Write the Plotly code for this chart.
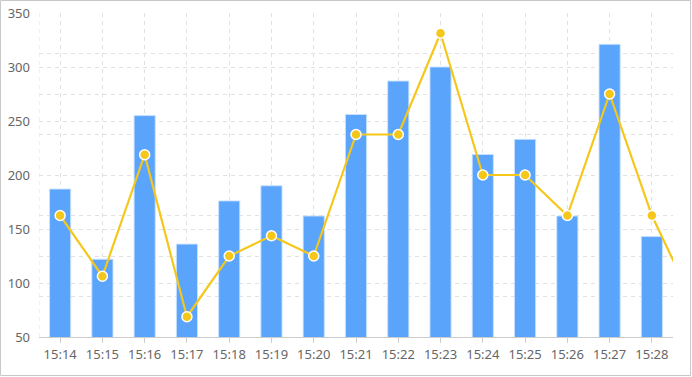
import plotly.graph_objects as go

# ---- data ----
times = ["15:14", "15:15", "15:16", "15:17", "15:18", "15:19", "15:20", "15:21",
         "15:22", "15:23", "15:24", "15:25", "15:26", "15:27", "15:28"]
bar_values = [187, 122, 255, 136, 176, 190, 162, 256, 287, 300, 219, 233, 162, 321, 143]

line_times = times + ["15:29"]
line_values = [30, 15, 45, 5, 20, 25, 20, 50, 50, 75, 40, 40, 30, 60, 30, 8]

W, H = 692, 377
ML, MR, MT, MB = 39, 19, 13, 40
PW, PH = W - ML - MR, H - MT - MB

GRID = "#e1e1e1"
TEXT = "#666666"
BAR = "#5aa4fc"
LINE = "#f6c71b"

fig = go.Figure()
fig.add_trace(go.Bar(
    x=times, y=bar_values, width=0.5,
    marker=dict(color=BAR, line=dict(color="rgba(200,225,255,0.9)", width=1)),
    yaxis="y", showlegend=False,
))
fig.add_trace(go.Scatter(
    x=line_times, y=line_values, mode="lines+markers",
    line=dict(color=LINE, width=2.2),
    marker=dict(color=LINE, size=10, line=dict(color="white", width=1.5)),
    yaxis="y2", showlegend=False, cliponaxis=True,
))

# border around the whole chart (paper coords)
bx0 = (0.5 - ML) / PW
bx1 = (W - 1.5 - ML) / PW
by1 = 1 - (0.5 - MT) / PH
by0 = 1 - (H - 1.5 - MT) / PH

fig.update_layout(
    width=W, height=H,
    margin=dict(l=ML, r=MR, t=MT, b=MB, autoexpand=False),
    paper_bgcolor="white", plot_bgcolor="white",
    font=dict(family="Noto Sans, Open Sans, sans-serif", size=13, color=TEXT),
    bargap=0.5,
    xaxis=dict(
        type="category", range=[-0.5, 14.5], automargin=False,
        showgrid=True, gridcolor=GRID, griddash="4px,4px", gridwidth=1,
        showline=True, linecolor="#cccccc", linewidth=1,
        ticks="outside", ticklen=5, tickcolor="#cccccc",
        tickfont=dict(size=13, color=TEXT),
        zeroline=False,
    ),
    yaxis=dict(
        range=[50, 350], dtick=50, tick0=50, automargin=False,
        showgrid=True, gridcolor=GRID, griddash="4px,4px", gridwidth=1,
        showline=False, zeroline=False, ticks="",
        ticklabelstandoff=8,
        tickfont=dict(size=13, color=TEXT),
    ),
    yaxis2=dict(
        overlaying="y", side="right", range=[0, 80], dtick=10, automargin=False,
        showgrid=True, gridcolor=GRID, griddash="4px,4px", gridwidth=1,
        showticklabels=False, showline=False, zeroline=False, ticks="",
    ),
    shapes=[
        dict(type="line", xref="x", yref="paper", x0=-0.5, x1=-0.5, y0=0, y1=1,
             line=dict(color=GRID, width=1, dash="4px,4px"), layer="below"),
        dict(type="rect", xref="paper", yref="paper", x0=bx0, x1=bx1, y0=by0, y1=by1,
             line=dict(color="#c8c8c8", width=1), layer="above"),
    ],
)

fig.write_html("out.html")
